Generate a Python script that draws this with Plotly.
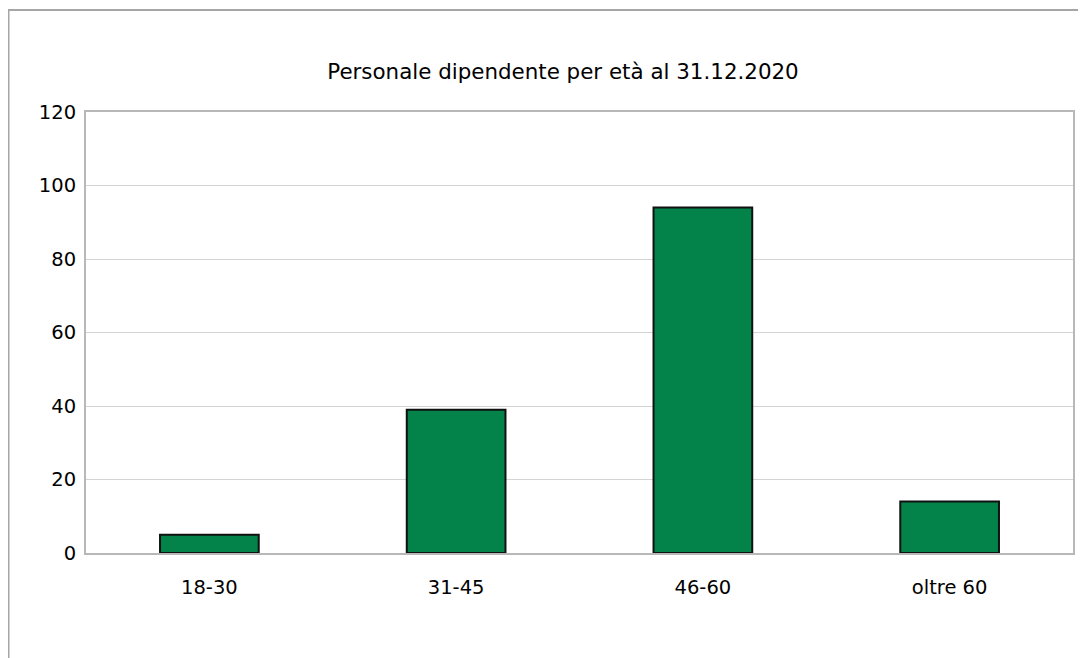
import plotly.graph_objects as go

categories = ["18-30", "31-45", "46-60", "oltre 60"]
values = [5, 39, 94, 14]
y_ticks = [0, 20, 40, 60, 80, 100, 120]
title_text = "Personale dipendente per età al 31.12.2020"

OFF = 8  # page body margin
W, H = 1086 - OFF, 658 - OFF
L, R, T, B = 86 - OFF, 1073 - OFF, 112 - OFF, 553 - OFF
pw, ph = R - L, B - T

fig = go.Figure(go.Bar(
    x=categories, y=values, width=0.4,
    marker=dict(color="#03834a", line=dict(color="#111111", width=2)),
))

font = "DejaVu Sans"
fig.update_layout(
    width=W, height=H,
    margin=dict(l=L, r=W - R, t=T, b=H - B, pad=0),
    paper_bgcolor="white", plot_bgcolor="white",
    showlegend=False,
    font=dict(family=font, size=19, color="#000000"),
    title=dict(text=title_text, x=(563 - OFF) / W, xref="container", xanchor="center",
               y=1 - (72 - OFF) / H, yref="container", yanchor="middle",
               font=dict(family=font, size=21.4, color="#000000")),
    xaxis=dict(showgrid=False, showline=True, mirror=True, linecolor="#b8b8b8", linewidth=2,
               ticks="", ticklabelstandoff=16, tickfont=dict(size=19.5)),
    yaxis=dict(range=[0, 120], tickvals=y_ticks, showgrid=True, gridcolor="#d4d4d4", gridwidth=1,
               showline=True, mirror=True, linecolor="#b8b8b8", linewidth=2,
               zeroline=False, ticks="", ticklabelstandoff=4, tickfont=dict(size=19.5)),
    shapes=[dict(type="rect", xref="paper", yref="paper",
                 x0=(8.5 - 86) / pw, x1=(1086 + 20 - 86) / pw,
                 y0=-(658 + 20 - 553) / ph, y1=1 + (112 - 10) / ph,
                 line=dict(color="#a6a6a6", width=2), layer="below")],
)

fig.write_html("out.html")
